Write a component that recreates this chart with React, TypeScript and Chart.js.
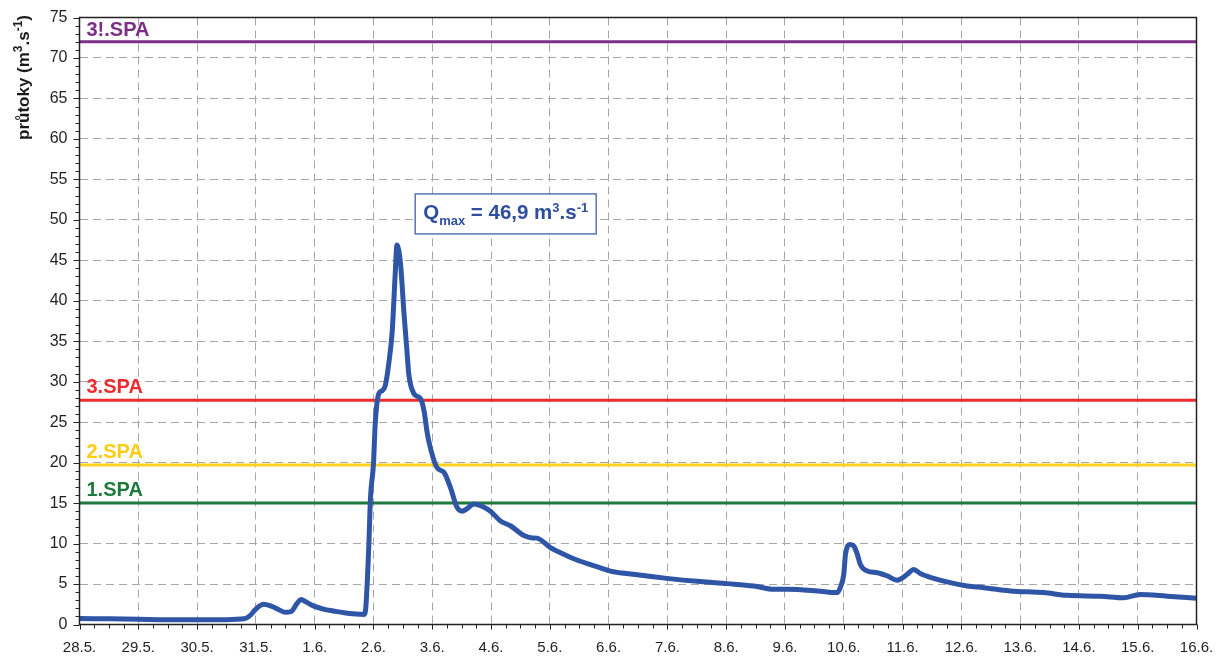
import React, { useEffect, useRef } from 'react';
import { Chart, registerables } from 'chart.js';

Chart.register(...registerables);

const FONT = '"Liberation Sans", Arial, Helvetica, sans-serif';

const dateLabels = [
  '28.5.', '29.5.', '30.5.', '31.5.', '1.6.', '2.6.', '3.6.', '4.6.', '5.6.', '6.6.',
  '7.6.', '8.6.', '9.6.', '10.6.', '11.6.', '12.6.', '13.6.', '14.6.', '15.6.', '16.6.',
];

// time in days since 28.5. 00:00
const timeDays = [
  0, 0.5, 1.0, 1.5, 2.0, 2.5, 2.8, 2.9, 3.0, 3.13, 3.25, 3.4, 3.5, 3.6, 3.7, 3.77, 3.85, 3.98,
  4.15, 4.32, 4.5, 4.7, 4.84, 4.87, 4.92, 4.95, 5.0, 5.03, 5.09, 5.15, 5.2, 5.26, 5.32, 5.37,
  5.4, 5.46, 5.52, 5.57, 5.6, 5.69, 5.8, 5.86, 5.91, 5.94, 6.08, 6.2, 6.31, 6.42, 6.51, 6.59,
  6.71, 6.88, 6.99, 7.16, 7.33, 7.56, 7.7, 7.78, 8.01, 8.29, 8.45, 8.86, 9.03, 9.42, 9.99,
  10.56, 11.02, 11.47, 11.81, 12.04, 12.55, 12.89, 12.94, 13.0, 13.03, 13.11, 13.17, 13.23,
  13.28, 13.4, 13.57, 13.74, 13.91, 13.96, 14.08, 14.19, 14.3, 14.53, 14.81, 15.1, 15.38,
  15.83, 16.4, 16.8, 17.36, 17.76, 18.04, 18.5, 19.0,
];

// discharge in m3/s
const flowValues = [
  0.75, 0.7, 0.65, 0.6, 0.6, 0.6, 0.7, 1.1, 1.9, 2.5, 2.3, 1.8, 1.5, 1.6, 2.6, 3.1, 2.8, 2.3,
  1.9, 1.67, 1.45, 1.3, 1.25, 2.1, 9.5, 15.7, 19.8, 24.8, 28.5, 28.9, 29.5, 32.2, 36.3, 43.3,
  46.9, 44.6, 38.4, 33.8, 31.0, 28.5, 27.9, 26.4, 23.9, 22.7, 19.4, 18.8, 16.9, 14.5, 14.0, 14.3,
  14.9, 14.5, 14.0, 12.8, 12.2, 11.0, 10.7, 10.67, 9.5, 8.5, 8.0, 7.0, 6.6, 6.2, 5.7,
  5.3, 5.05, 4.76, 4.35, 4.35, 4.15, 3.94, 4.55, 6.2, 8.7, 9.9, 9.7, 8.7,
  7.45, 6.6, 6.4, 6.0, 5.47, 5.6, 6.2, 6.8, 6.3, 5.7, 5.17, 4.76, 4.55,
  4.15, 3.94, 3.6, 3.5, 3.3, 3.7, 3.5, 3.24,
];

const spaNames = ['3!.SPA', '3.SPA', '2.SPA', '1.SPA'];
const spaValues = [72, 27.7, 19.7, 15.0];
const spaColors = ['#7D2E86', '#EE2B2E', '#FFD21F', '#1D7A3C'];
const spaLabelColors = ['#7D2E86', '#EE2B2E', '#FFCC11', '#1D7A3C'];

const qmaxText = '46,9';
const qmaxBoxAt = { day: 5.71, value: 53.2 };

const yMax = 75;
const yStep = 5;

const decorPlugin = {
  id: 'decor',
  afterDraw(chart: any) {
    const { ctx, chartArea: a, scales } = chart;
    const x = scales.x;
    const y = scales.y;
    ctx.save();

    // minor and major ticks
    ctx.strokeStyle = '#222';
    ctx.lineWidth = 1;
    ctx.beginPath();
    for (let v = 0; v <= yMax; v++) {
      const py = Math.round(y.getPixelForValue(v)) + 0.5;
      const len = v % yStep === 0 ? 6 : 4;
      ctx.moveTo(a.left - len, py);
      ctx.lineTo(a.left, py);
    }
    const nDays = dateLabels.length - 1;
    for (let q = 0; q <= nDays * 4; q++) {
      const px = Math.round(x.getPixelForValue(q / 4)) + 0.5;
      const len = q % 4 === 0 ? 5 : 4;
      ctx.moveTo(px, a.bottom);
      ctx.lineTo(px, a.bottom + len);
    }
    ctx.stroke();

    // frame
    ctx.lineWidth = 1.5;
    ctx.strokeStyle = '#222';
    ctx.strokeRect(a.left, a.top, a.right - a.left, a.bottom - a.top);

    // SPA labels
    ctx.font = `bold 20px ${FONT}`;
    ctx.textAlign = 'left';
    ctx.textBaseline = 'alphabetic';
    spaNames.forEach((name, i) => {
      ctx.fillStyle = spaLabelColors[i];
      const py = y.getPixelForValue(spaValues[i]);
      ctx.fillText(name, a.left + 7, py - (i === 0 ? 5.5 : 7.5));
    });

    // Qmax annotation box
    const bx = x.getPixelForValue(qmaxBoxAt.day);
    const by = y.getPixelForValue(qmaxBoxAt.value);
    const bw = 181;
    const bh = 40;
    ctx.fillStyle = '#fff';
    ctx.fillRect(bx, by, bw, bh);
    ctx.strokeStyle = '#3F5FA8';
    ctx.lineWidth = 1.3;
    ctx.strokeRect(bx, by, bw, bh);
    const base = by + 25.5;
    let cx = bx + 8;
    ctx.fillStyle = '#2E4E9E';
    const seg = (t: string, size: number, dy: number) => {
      ctx.font = `bold ${size}px ${FONT}`;
      ctx.fillText(t, cx, base + dy);
      cx += ctx.measureText(t).width;
    };
    seg('Q', 20.5, 0);
    seg('max', 13, 5.5);
    seg(' = ' + qmaxText + ' m', 20.5, 0);
    seg('3', 13, -7);
    seg('.s', 20.5, 0);
    seg('-1', 13, -7);

    // y axis title
    ctx.save();
    ctx.translate(28.5, 140);
    ctx.rotate(-Math.PI / 2);
    ctx.fillStyle = '#1a1a1a';
    let tx = 0;
    const tseg = (t: string, size: number, dy: number) => {
      ctx.font = `bold ${size}px ${FONT}`;
      ctx.fillText(t, tx, dy);
      tx += ctx.measureText(t).width;
    };
    tseg('průtoky (m', 17, 0);
    tseg('3', 12, -6.5);
    tseg('.s', 17, 0);
    tseg('-1', 12, -6.5);
    tseg(')', 17, 0);
    ctx.restore();

    ctx.restore();
  },
};

export default function App() {
  const ref = useRef<HTMLCanvasElement | null>(null);

  useEffect(() => {
    if (!ref.current) return;
    Chart.defaults.font.family = FONT;
    const lastDay = dateLabels.length - 1;
    const datasets: any[] = [
      {
        data: timeDays.map((d, i) => ({ x: d, y: flowValues[i] })),
        borderColor: '#2F55A6',
        borderWidth: 5,
        pointRadius: 0,
        cubicInterpolationMode: 'monotone',
        borderJoinStyle: 'round',
        borderCapStyle: 'round',
        fill: false,
      },
      ...spaValues.map((v, i) => ({
        data: [
          { x: 0, y: v },
          { x: lastDay, y: v },
        ],
        borderColor: spaColors[i],
        borderWidth: 3,
        pointRadius: 0,
        fill: false,
      })),
    ];

    const gridCommon = { color: '#A6A6A6', lineWidth: 1, drawTicks: false };

    const chart = new Chart(ref.current, {
      type: 'line',
      data: { datasets },
      plugins: [decorPlugin],
      options: {
        responsive: false,
        animation: false,
        events: [],
        layout: { padding: { top: 17.5, right: 20.5, left: 0, bottom: 0 } },
        plugins: {
          legend: { display: false },
          tooltip: { enabled: false },
          title: { display: false },
        },
        scales: {
          x: {
            type: 'linear',
            min: 0,
            max: lastDay,
            afterFit: (s: any) => {
              s.height = 32.5;
              s.paddingLeft = 0;
              s.paddingRight = 0;
            },
            afterBuildTicks: (s: any) => {
              s.ticks = dateLabels.map((_, i) => ({ value: i }));
            },
            ticks: {
              autoSkip: false,
              maxRotation: 0,
              minRotation: 0,
              padding: 14,
              color: '#231F20',
              font: { size: 15, family: FONT },
              callback: (v: any) => dateLabels[Math.round(Number(v))] ?? '',
            },
            grid: gridCommon,
            border: { display: false, dash: [8, 5] },
          },
          y: {
            min: 0,
            max: yMax,
            afterFit: (s: any) => {
              s.width = 79.5;
              s.paddingTop = 0;
              s.paddingBottom = 0;
            },
            ticks: {
              stepSize: yStep,
              padding: 12,
              color: '#231F20',
              font: { size: 16, family: FONT },
            },
            grid: gridCommon,
            border: { display: false, dash: [8, 5] },
          },
        },
      } as any,
    });
    return () => chart.destroy();
  }, []);

  return (
    <div style={{ position: 'fixed', left: 0, top: 0, width: 1217, height: 657, background: '#fff' }}>
      <canvas ref={ref} width={1217} height={657} style={{ display: 'block' }} />
    </div>
  );
}
